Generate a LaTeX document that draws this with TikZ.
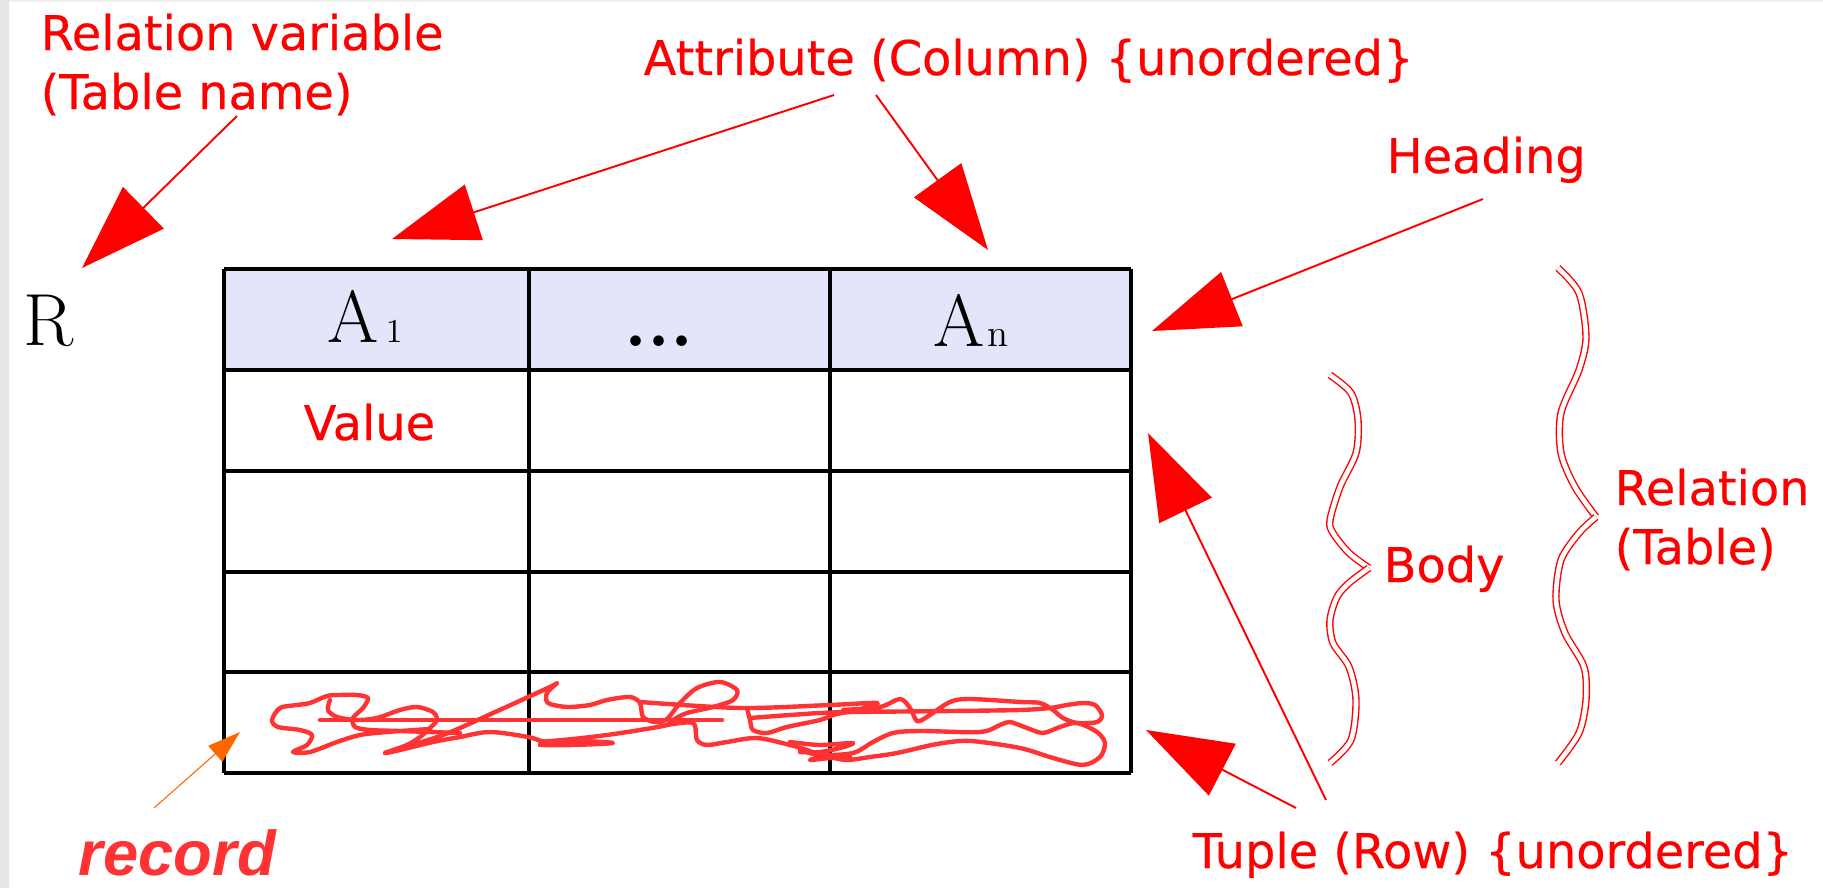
\documentclass[tikz,border=0pt]{standalone}
\usepackage{fontspec}
\newfontfamily\lblfont[FakeBold=0.4]{DejaVu Sans}
\newfontfamily\recfont{Liberation Sans}
\usetikzlibrary{arrows.meta}
\definecolor{headfill}{RGB}{228,228,250}
\definecolor{lblred}{RGB}{255,0,0}
\definecolor{scribred}{RGB}{255,51,51}
\definecolor{recorange}{RGB}{255,102,0}

\begin{document}
\begin{tikzpicture}[x=0.01cm,y=-0.01cm,
  lbl/.style={inner sep=0pt,text=lblred,font=\lblfont\fontsize{13.6}{16.8}\selectfont,align=left},
  big/.style={inner sep=0pt,font=\fontsize{21}{21}\selectfont\addfontfeature{FakeBold=1}},
  ptr/.style={lblred,line width=0.55pt,-{Triangle[length=8.6mm,width=5.8mm]}},
  brace/.style={draw=lblred,line width=0.4pt,double=white,double distance=1.3pt},
  scrib/.style={scribred,line width=1.25pt,line cap=round,line join=round}]
\useasboundingbox (0,0) rectangle (1823,888);
\fill[white] (0,0) rectangle (1823,888);
\fill[black!10] (0,0) rectangle (9,888);
\fill[black!6] (9,0) rectangle (1823,2);
\fill[headfill] (224,269) rectangle (1131,370);
\foreach \y in {269,370,471,572,672,773} \draw[line width=0.9pt] (224,\y) -- (1131,\y);
\foreach \x in {224,529,830,1131} \draw[line width=0.9pt] (\x,269) -- (\x,773);
\node[big,anchor=base west] (rvar) at (23,346) {R};
\node[big,anchor=base west] (a1) at (327,343) {A\kern2pt{\fontsize{9.5}{9.5}\selectfont 1}};
\node[big,anchor=base] (dots) at (659,347) {\bfseries ...};
\node[big,anchor=base west] (an) at (933,347) {A\kern0.8pt{\fontsize{11}{11}\selectfont n}};
\node[lbl,anchor=base west] (value) at (303,440) {Value};
\node[lbl,anchor=north west] (relvar) at (40,13) {Relation variable\\(Table name)};
\node[lbl,anchor=base west] (attr) at (643,75) {Attribute (Column) \{unordered\}};
\node[lbl,anchor=base west] (heading) at (1386,173) {Heading};
\node[lbl,anchor=north west] (relation) at (1614,468) {Relation\\(Table)};
\node[lbl,anchor=base west] (body) at (1383,582) {Body};
\node[lbl,anchor=base west] (tuple) at (1192,868) {Tuple (Row) \{unordered\}};
\node[inner sep=0pt,anchor=base west,text=scribred,font=\recfont\bfseries\itshape\fontsize{18}{18}\selectfont] (record) at (78,875) {record};
\coordinate (rv-s) at (237,116);
\coordinate (rv-e) at (82,268);
\coordinate (at-s1) at (834,95);
\coordinate (at-e1) at (392,239);
\coordinate (at-s2) at (876,95);
\coordinate (at-e2) at (988,250);
\coordinate (hd-s) at (1483,199);
\coordinate (hd-e) at (1152,331);
\coordinate (tp-s1) at (1296,808);
\coordinate (tp-e1) at (1146,730);
\coordinate (tp-s2) at (1326,800);
\coordinate (tp-e2) at (1148,433);
\coordinate (rc-s) at (154,808);
\coordinate (rc-e) at (240,732);
\draw[ptr] (rv-s) -- (rv-e);
\draw[ptr] (at-s1) -- (at-e1);
\draw[ptr] (at-s2) -- (at-e2);
\draw[ptr] (hd-s) -- (hd-e);
\draw[ptr] (tp-s1) -- (tp-e1);
\draw[ptr] (tp-s2) -- (tp-e2);
\draw[recorange,line width=0.3pt,-{Triangle[length=3.3mm,width=2.1mm]}] (rc-s) -- (rc-e);
\draw[brace] plot[smooth] coordinates {(1330,375) (1351,393) (1358,420) (1356,453) (1340,487) (1330,520) (1333,533) (1349,553) (1369,568)};
\draw[brace] plot[smooth] coordinates {(1369,568) (1349,583) (1337,597) (1330,620) (1333,643) (1349,667) (1356,700) (1351,740) (1330,763)};
\draw[brace] plot[smooth] coordinates {(1558,268) (1579,293) (1586,337) (1579,370) (1561,413) (1561,453) (1575,487) (1596,517)};
\draw[brace] plot[smooth] coordinates {(1596,517) (1579,533) (1561,560) (1556,600) (1565,633) (1584,667) (1586,700) (1579,733) (1558,763)};
\draw[scrib] plot[smooth] coordinates {(460,733) (400,731) (370,730) (355,727) (353,718) (363,708) (368,698) (357,695) (340,695) (327,696) (310,703) (297,705) (280,708) (272,720) (278,727) (300,730) (312,735) (307,745) (293,752) (310,752) (337,742) (360,735) (387,732) (430,729)};
\draw[scrib] plot[smooth] coordinates {(330,700) (328,710) (337,717) (357,720) (377,718) (400,710) (417,707) (433,712) (437,720) (430,728) (420,737) (407,745) (385,753) (400,750) (433,742) (460,737) (490,732) (528,737) (547,742) (580,741) (613,743) (573,745) (540,745)};
\draw[scrib] plot[smooth] coordinates {(385,753) (443,735) (493,713) (550,687) (557,683) (547,693) (548,703) (567,707) (590,705) (607,700) (630,697) (640,703) (643,717) (655,722) (667,719) (680,703) (697,688) (720,682) (737,690) (733,700) (713,707) (687,713) (673,720) (667,725) (640,730) (607,735) (573,739) (540,742)};
\draw[scrib] (320,720) -- (722,720);
\draw[scrib] plot[smooth] coordinates {(640,702) (740,708) (830,705) (877,703) (860,709) (843,710) (880,707) (900,699) (910,708) (917,721) (927,717) (950,702) (970,699) (1020,702) (1040,703) (1053,710) (1063,718) (1077,723) (1097,722) (1102,715) (1095,705) (1083,703) (1067,705) (1050,708) (1020,710) (953,711) (853,712) (820,713) (790,715) (750,718)};
\draw[scrib] plot[smooth] coordinates {(800,750) (820,755) (853,753) (873,742) (893,733) (920,731) (980,732) (1000,725) (1010,722) (1027,728) (1043,733) (1060,727) (1077,723) (1097,732) (1105,743) (1100,757) (1083,765) (1053,758) (1020,748) (970,741) (937,744) (897,753) (870,757) (847,760) (830,757)};
\draw[scrib] plot[smooth] coordinates {(790,742) (820,745) (853,743) (840,748) (820,752) (800,752)};
\draw[scrib] plot[smooth] coordinates {(747,708) (750,720) (753,730) (767,733) (787,727) (820,720) (833,715) (847,712)};
\draw[scrib] plot[smooth] coordinates {(667,725) (693,723) (697,740) (707,745) (727,742) (757,738) (790,745) (807,750) (820,756) (810,760) (830,758) (850,757)};
\end{tikzpicture}
\end{document}
